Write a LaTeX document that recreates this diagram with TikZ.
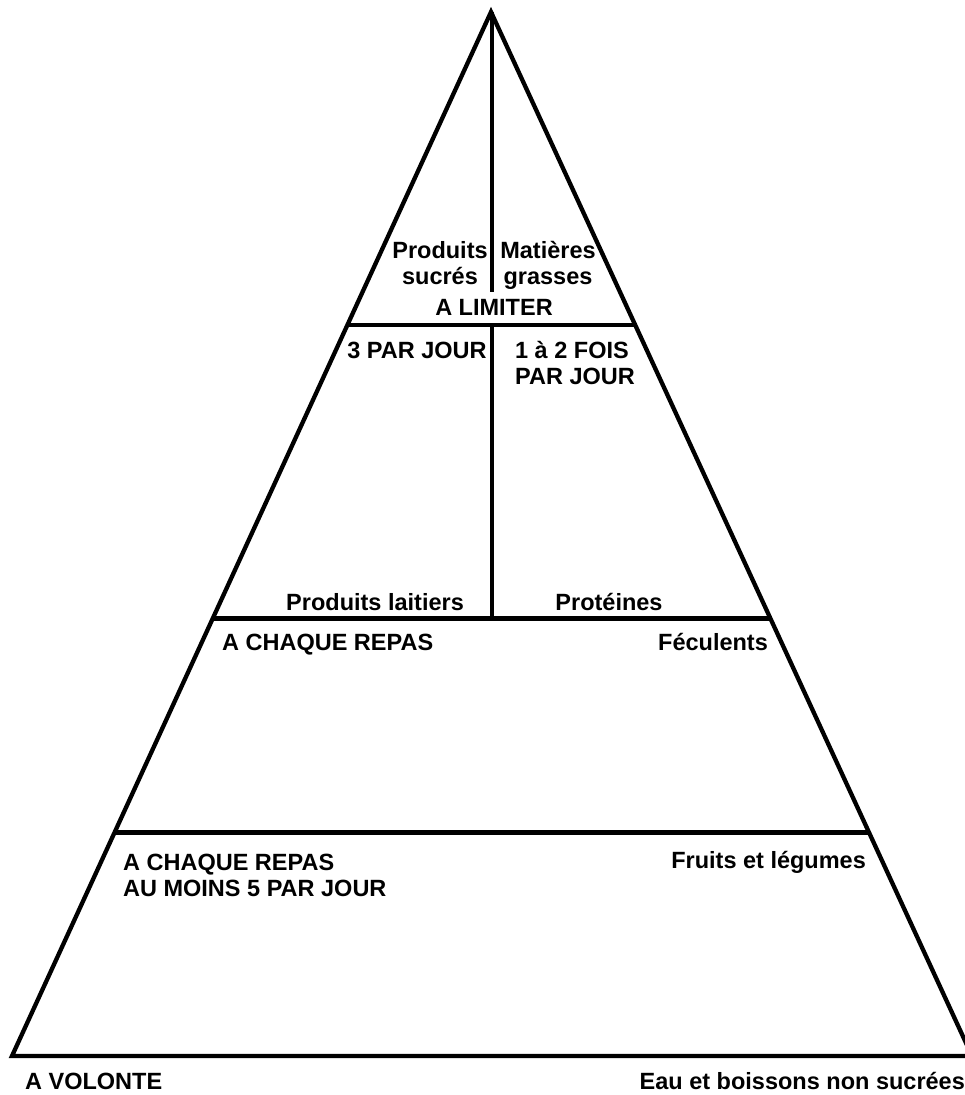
\documentclass[tikz,border=0pt]{standalone}
\usepackage{fontspec}
\setmainfont{Liberation Sans}
\usetikzlibrary{calc, positioning}
\tikzset{
x=1pt, y=-1pt, % picture measured in pixels, y going down
every path/.style={line width=4.3pt}, % thick black strokes everywhere
lbl/.style={font=\fontsize{23.5}{26}\selectfont\bfseries, inner sep=0pt}, % sets the look of every text
}

\begin{document}
\begin{tikzpicture}
    \useasboundingbox (0,0) rectangle (964,1095);
    \coordinate (top) at (491,12);
    \coordinate (bl) at (12,1056);
    \coordinate (br) at (972,1056);
    % the three floors
    \coordinate (l1) at ($(top)!0.300!(bl)$);
    \coordinate (r1) at ($(top)!0.300!(br)$);
    \coordinate (l2) at ($(top)!0.581!(bl)$);
    \coordinate (r2) at ($(top)!0.581!(br)$);
    \coordinate (l3) at ($(top)!0.786!(bl)$);
    \coordinate (r3) at ($(top)!0.786!(br)$);
    \coordinate (cut) at (492,292);
    \coordinate (m1) at (l1 -| cut);
    \coordinate (m2) at (l2 -| cut);
    \draw (top) -- (bl) -- (br) -- cycle;
    \draw (l1) -- (r1);
    \draw (l2) -- (r2);
    \draw (l3) -- (r3);
    \draw (top -| cut) -- (cut);
    \draw (m1) -- (m2);
    % texts (base of a two-line text is its last line)
    \node[lbl, align=center, anchor=base] (sucres) at (440,284) {Produits\\sucrés};
    \node[lbl, align=center, anchor=base] (grasses) at (548,284) {Matières\\grasses};
    \node[lbl, anchor=base] (limiter) at (494,315) {A LIMITER};
    \node[lbl, anchor=base] (troisj) at (417,358) {3 PAR JOUR};
    \node[lbl, align=left, anchor=base west] (unadeux) at (513,384) {1 à 2 FOIS\\PAR JOUR};
    \node[lbl, anchor=base east] (laitiers) at (466,610) {Produits laitiers};
    \node[lbl, anchor=base] (proteines) at (609,610) {Protéines};
    \node[lbl, anchor=base west] (repas) at (220,650) {A CHAQUE REPAS};
    \node[lbl, anchor=base east] (feculents) at (770,650) {Féculents};
    \node[lbl, align=left, anchor=base west] (cinq) at (121,896) {A CHAQUE REPAS\\AU MOINS 5 PAR JOUR};
    \node[lbl, anchor=base east] (fruits) at (868,868) {Fruits et légumes};
    \node[lbl, anchor=base west] (volonte) at (23,1089) {A VOLONTE};
    \node[lbl, anchor=base east] (eau) at (967,1089) {Eau et boissons non sucrées};
\end{tikzpicture}
\end{document}
